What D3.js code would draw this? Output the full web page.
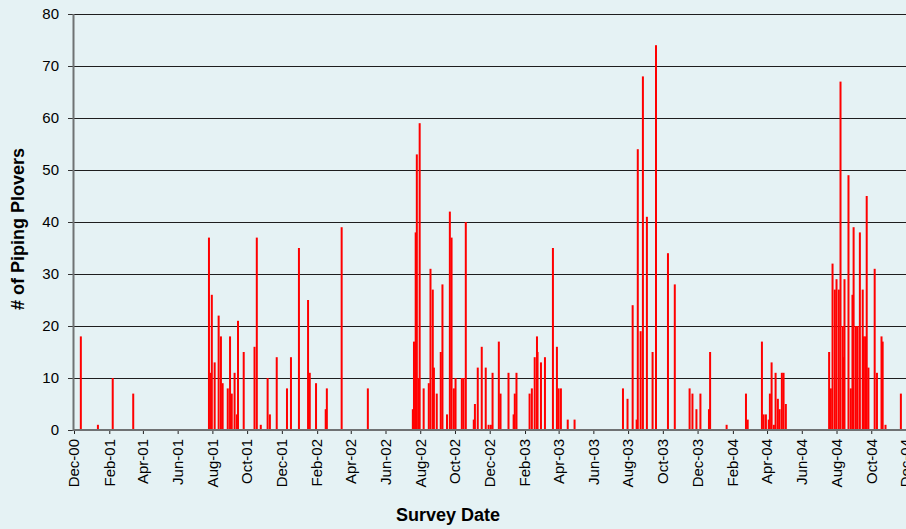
<!DOCTYPE html>
<html><head><meta charset="utf-8">
<script src="https://cdn.jsdelivr.net/npm/d3@7"></script>
<style>
html,body{margin:0;padding:0;background:#e5f2f4;}
svg{display:block;font-family:"Liberation Sans",Arial,sans-serif;}
</style>
</head><body>
<svg id="chart" width="906" height="529"></svg>
<script>
const surveyDates = [
"2000-12-13","2001-01-12","2001-02-07","2001-03-15",
"2001-07-26","2001-07-29","2001-07-31","2001-08-05","2001-08-12","2001-08-16","2001-08-19","2001-08-28","2001-09-01","2001-09-04","2001-09-09","2001-09-13","2001-09-15","2001-09-25",
"2001-10-14","2001-10-18","2001-10-25","2001-11-06","2001-11-10","2001-11-22","2001-12-10","2001-12-17","2001-12-31",
"2002-01-16","2002-01-19","2002-01-30","2002-02-16","2002-02-18","2002-03-16","2002-05-01",
"2002-07-19","2002-07-21","2002-07-24","2002-07-26","2002-07-29","2002-07-31","2002-08-07","2002-08-16","2002-08-19","2002-08-23","2002-08-25","2002-08-30","2002-09-06","2002-09-09","2002-09-17","2002-09-22","2002-09-25","2002-09-29","2002-10-02","2002-10-13","2002-10-16","2002-10-20",
"2002-11-03","2002-11-05","2002-11-10","2002-11-17","2002-11-24","2002-11-29","2002-12-03","2002-12-06","2002-12-17","2002-12-20",
"2003-01-03","2003-01-12","2003-01-14","2003-01-17","2003-02-09","2003-02-13","2003-02-18","2003-02-22","2003-02-23","2003-03-01","2003-03-08","2003-03-22","2003-03-29","2003-04-01","2003-04-05","2003-04-17","2003-04-29",
"2003-07-23","2003-07-31","2003-08-09","2003-08-16","2003-08-18","2003-08-23","2003-08-27","2003-09-03","2003-09-13","2003-09-19","2003-10-10","2003-10-22","2003-11-17","2003-11-22","2003-11-29","2003-12-06","2003-12-21","2003-12-23",
"2004-01-21","2004-02-24","2004-02-27","2004-03-23","2004-03-26","2004-03-30","2004-04-04","2004-04-06","2004-04-09","2004-04-13","2004-04-16","2004-04-20","2004-04-23","2004-04-27","2004-04-30","2004-05-04",
"2004-07-19","2004-07-22","2004-07-25","2004-07-29","2004-08-01","2004-08-05","2004-08-08","2004-08-12","2004-08-14","2004-08-15","2004-08-22","2004-08-26","2004-08-29","2004-08-31","2004-09-04","2004-09-07","2004-09-11","2004-09-16","2004-09-18","2004-09-21","2004-09-23","2004-09-26","2004-10-07","2004-10-11","2004-10-19","2004-10-21","2004-10-26","2004-11-22"
];
const ploverCounts = [
18,1,10,7,
37,11,26,13,22,18,9,8,18,7,11,3,21,15,
16,37,1,10,3,14,8,14,35,
25,11,9,4,8,39,8,
4,17,38,53,10,59,8,9,31,27,12,7,15,28,3,42,37,8,10,10,10,40,
2,5,12,16,12,1,1,11,17,7,
11,3,7,11,7,8,14,18,15,13,14,35,16,8,8,2,2,
8,6,24,2,54,19,68,41,15,74,34,28,8,7,4,7,4,15,
1,7,2,17,3,3,2,7,13,1,11,6,4,11,11,5,
15,8,32,27,29,27,67,20,14,29,49,8,26,39,20,20,38,27,18,18,45,12,31,11,18,17,1,7
];
const yTickValues = [0,10,20,30,40,50,60,70,80];
const xDomainStart = "2000-12-01";
const xDomainEnd = "2004-12-01";
const xTitle = "Survey Date";
const yTitle = "# of Piping Plovers";

(function(){
const parse = d3.timeParse("%Y-%m-%d");
const data = surveyDates.map((d,i)=>({date:parse(d), value:ploverCounts[i]}));

const svg = d3.select("#chart");
const pL = 74, pR = 906, pT = 14, pB = 430;

const x = d3.scaleTime().domain([parse(xDomainStart), parse(xDomainEnd)]).range([pL, pR]);
const y = d3.scaleLinear().domain([0,80]).range([pB, pT]);

// gridlines
svg.append("g").selectAll("line").data(yTickValues.filter(v=>v>0)).join("line")
  .attr("x1", pL).attr("x2", pR+2)
  .attr("y1", d=>Math.round(y(d))+0.5).attr("y2", d=>Math.round(y(d))+0.5)
  .attr("stroke", "#1e1e1e").attr("stroke-width", 1.2);

// bars
svg.append("g").selectAll("rect").data(data).join("rect")
  .attr("x", d=>x(d.date)-1)
  .attr("y", d=>y(d.value))
  .attr("width", 2)
  .attr("height", d=>pB - y(d.value))
  .attr("fill", "#ff0000");

// y axis
const yAxis = svg.append("g").attr("transform", `translate(${pL},0)`)
  .call(d3.axisLeft(y).tickValues(yTickValues).tickSize(6).tickPadding(9).tickFormat(d3.format("d")));
yAxis.select(".domain").remove();
yAxis.selectAll(".tick line").attr("stroke", "#333");
yAxis.selectAll(".tick text").attr("font-size", "15px").attr("fill", "#000").attr("font-family", "Liberation Sans, Arial, sans-serif");
svg.append("line").attr("x1", pL-0.5).attr("x2", pL-0.5).attr("y1", pT).attr("y2", pB+1)
  .attr("stroke", "#6f7273").attr("stroke-width", 2);

// x axis
const xTicks = d3.timeMonth.range(parse(xDomainStart), d3.timeDay.offset(parse(xDomainEnd),1), 2);
const fmt = d3.timeFormat("%b-%y");
const xAxis = svg.append("g").attr("transform", `translate(0,${pB})`)
  .call(d3.axisBottom(x).tickValues(xTicks).tickSize(4).tickFormat(fmt));
xAxis.select(".domain").remove();
xAxis.selectAll(".tick line").attr("stroke", "#222");
xAxis.selectAll(".tick text")
  .attr("font-size", "15px").attr("fill", "#000").attr("font-family", "Liberation Sans, Arial, sans-serif")
  .attr("text-anchor", "end")
  .attr("transform", "translate(0,9) rotate(-90)")
  .attr("x", 0).attr("y", 0).attr("dy", "0.32em");
svg.append("line").attr("x1", pL-1).attr("x2", pR+2).attr("y1", pB).attr("y2", pB)
  .attr("stroke", "#6f7273").attr("stroke-width", 2);

// titles
svg.append("text").attr("x", 448).attr("y", 520.5).attr("text-anchor", "middle")
  .attr("font-size", "18px").attr("font-weight", "bold").attr("fill", "#000").text(xTitle);
svg.append("text").attr("transform", "translate(23.5,229) rotate(-90)").attr("text-anchor", "middle")
  .attr("font-size", "18px").attr("font-weight", "bold").attr("fill", "#000").text(yTitle);
})();
</script>
</body></html>
